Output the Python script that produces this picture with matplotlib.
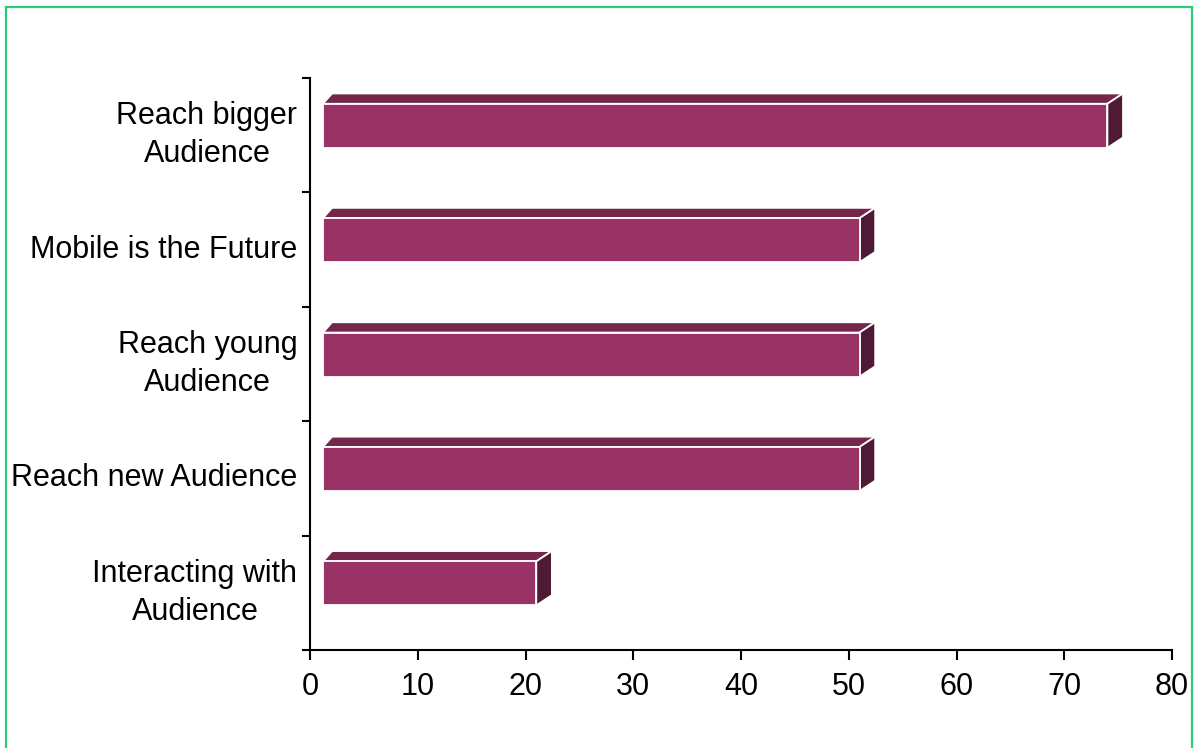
import matplotlib.pyplot as plt
from matplotlib.patches import Polygon, Rectangle
from matplotlib.lines import Line2D

plt.rcParams["font.family"] = ["Liberation Sans", "DejaVu Sans"]

# data, bottom to top
categories = [
    "Interacting with\nAudience",
    "Reach new Audience",
    "Reach young\nAudience",
    "Mobile is the Future",
    "Reach bigger\nAudience",
]
values = [21, 51, 51, 51, 74]
x_ticks = [0, 10, 20, 30, 40, 50, 60, 70, 80]

FRONT = "#993366"
TOP = "#74264b"
SIDE = "#4e1a36"

# 3d look of the bars, in data units
X0 = 1.2          # front face starts a bit off the axis
DX_LEFT = 0.85
DX_RIGHT = 1.45
DY = 0.09
Y_LOW = -0.11
Y_HIGH = 0.275

fig = plt.figure(figsize=(11.95, 7.48), dpi=100)
ax = fig.add_axes([0.2594, 0.131, 0.9808 - 0.2594, 0.8957 - 0.131])

for i, v in enumerate(values):
    yb = i + Y_LOW
    yt = i + Y_HIGH
    top = Polygon([(X0, yt), (X0 + DX_LEFT, yt + DY), (v + DX_RIGHT, yt + DY), (v, yt)],
                  closed=True, facecolor=TOP, edgecolor="white", linewidth=1.3, zorder=2)
    side = Polygon([(v, yb), (v + DX_RIGHT, yb + DY), (v + DX_RIGHT, yt + DY), (v, yt)],
                   closed=True, facecolor=SIDE, edgecolor="white", linewidth=1.3, zorder=2)
    front = Rectangle((X0, yb), v - X0, yt - yb, facecolor=FRONT,
                      edgecolor="white", linewidth=1.3, zorder=3)
    ax.add_patch(top)
    ax.add_patch(side)
    ax.add_patch(front)

ax.set_xlim(0, 80)
ax.set_ylim(-0.5, len(categories) - 0.5)

ax.set_xticks(x_ticks)
ax.set_xticklabels([str(t) for t in x_ticks], fontsize=22)
ax.tick_params(axis="x", direction="out", length=7, width=1.5, pad=9, colors="black")

# ticks at category boundaries, labels at centres
ax.set_yticks([i - 0.5 for i in range(len(categories) + 1)])
ax.set_yticklabels([])
ax.set_yticks(range(len(categories)), minor=True)
ax.set_yticklabels(categories, minor=True, fontsize=22, multialignment="center",
                   linespacing=1.35, va="center")
ax.tick_params(axis="y", which="major", direction="out", length=6, width=1.5)
ax.tick_params(axis="y", which="minor", length=0, pad=9)

for side_name in ["top", "right"]:
    ax.spines[side_name].set_visible(False)
for side_name in ["left", "bottom"]:
    ax.spines[side_name].set_linewidth(1.5)

# green frame round the chart
green = "#2ecc71"
W, H = 1195, 748
fig.add_artist(Line2D([6 / W, 6 / W], [0, 1 - 7 / H], color=green, linewidth=1.6,
                      transform=fig.transFigure))
fig.add_artist(Line2D([6 / W, 1192 / W], [1 - 7 / H, 1 - 7 / H], color=green, linewidth=1.6,
                      transform=fig.transFigure))
fig.add_artist(Line2D([1192 / W, 1192 / W], [0, 1 - 7 / H], color=green, linewidth=1.6,
                      transform=fig.transFigure))

fig.savefig("out.png", dpi=100)
